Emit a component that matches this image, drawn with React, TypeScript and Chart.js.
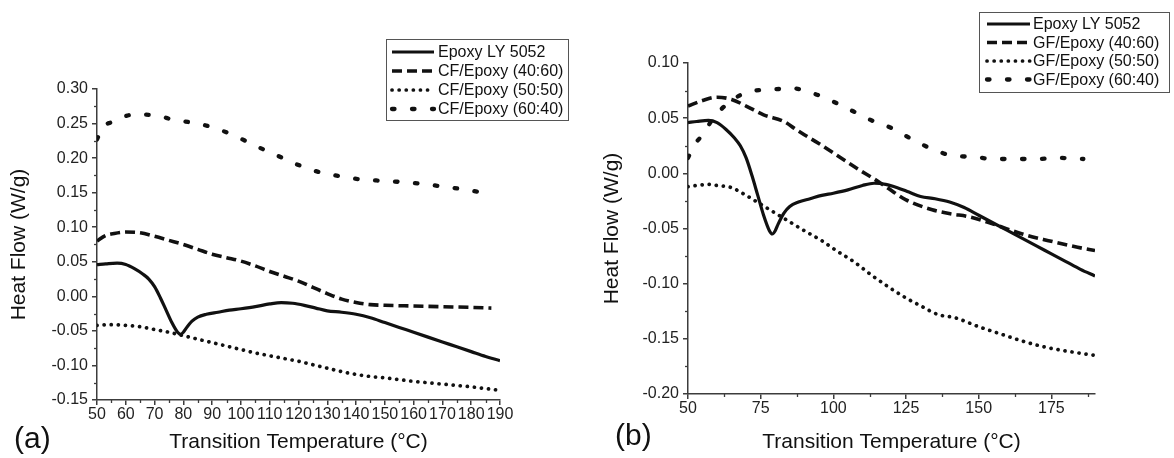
import React, { useEffect, useRef } from 'react';
import { Chart, registerables } from 'chart.js';

Chart.register(...registerables);

const FONT = "'Liberation Sans', Arial, Helvetica, sans-serif";
const INK = '#111111';
const AXIS = '#3c3c3c';

// ---------- Shared: neat epoxy curve ----------
const tempEpoxy = [50, 53, 57, 60, 63, 66, 68, 70, 72, 74, 76, 78, 79, 80, 81, 83, 85, 88, 92, 96, 100, 105, 110, 114, 118, 122, 126, 130, 135, 140, 145, 150, 155, 160, 165, 170, 175, 180, 185, 190];
const hfEpoxy = [0.046, 0.047, 0.048, 0.046, 0.040, 0.032, 0.025, 0.014, -0.002, -0.020, -0.038, -0.052, -0.055, -0.052, -0.046, -0.036, -0.030, -0.026, -0.023, -0.020, -0.018, -0.015, -0.011, -0.009, -0.010, -0.013, -0.017, -0.021, -0.023, -0.026, -0.031, -0.038, -0.045, -0.052, -0.059, -0.066, -0.073, -0.080, -0.087, -0.093];

// ---------- Panel (a): CF/Epoxy ----------
const tempCF4060 = [50, 53, 56, 60, 65, 70, 75, 80, 85, 90, 95, 100, 105, 110, 115, 120, 125, 130, 135, 140, 145, 150, 160, 170, 180, 187];
const hfCF4060 = [0.080, 0.088, 0.091, 0.093, 0.092, 0.087, 0.081, 0.075, 0.068, 0.061, 0.056, 0.051, 0.044, 0.036, 0.029, 0.022, 0.013, 0.004, -0.004, -0.009, -0.012, -0.013, -0.014, -0.015, -0.016, -0.017];

const tempCF5050 = [50, 55, 60, 65, 70, 75, 80, 85, 90, 95, 100, 105, 110, 115, 120, 125, 130, 135, 140, 145, 150, 160, 170, 180, 190];
const hfCF5050 = [-0.042, -0.041, -0.042, -0.044, -0.048, -0.052, -0.057, -0.062, -0.067, -0.072, -0.077, -0.082, -0.086, -0.090, -0.094, -0.099, -0.104, -0.109, -0.113, -0.116, -0.118, -0.123, -0.127, -0.131, -0.136];

const tempCF6040 = [50, 52, 55, 58, 63, 70, 77, 85, 92, 99, 106, 113, 120, 127, 134, 142, 150, 160, 170, 180, 187];
const hfCF6040 = [0.227, 0.245, 0.252, 0.258, 0.263, 0.262, 0.255, 0.250, 0.242, 0.230, 0.216, 0.203, 0.190, 0.180, 0.174, 0.169, 0.167, 0.164, 0.159, 0.153, 0.147];

// ---------- Panel (b): GF/Epoxy ----------
const tempGF4060 = [50, 55, 60, 65, 70, 76, 83, 87, 90, 95, 102, 109, 114, 118, 125, 134, 141, 146, 155, 165, 174, 184, 190];
const hfGF4060 = [0.061, 0.066, 0.069, 0.067, 0.061, 0.053, 0.047, 0.040, 0.035, 0.027, 0.015, 0.003, -0.005, -0.012, -0.024, -0.033, -0.037, -0.039, -0.046, -0.055, -0.061, -0.067, -0.070];

const tempGF5050 = [50, 53, 57, 60, 65, 70, 75, 80, 85, 90, 96, 101, 107, 113, 119, 125, 130, 136, 142, 150, 158, 165, 172, 180, 190];
const hfGF5050 = [-0.012, -0.011, -0.010, -0.011, -0.013, -0.020, -0.028, -0.036, -0.044, -0.052, -0.061, -0.070, -0.080, -0.092, -0.103, -0.113, -0.120, -0.128, -0.131, -0.139, -0.146, -0.152, -0.157, -0.161, -0.165];

const tempGF6040 = [50, 52, 55, 59, 65, 71, 79, 86, 93, 100, 107, 114, 120, 127, 134, 141, 148, 155, 163, 170, 177, 186];
const hfGF6040 = [0.014, 0.025, 0.035, 0.051, 0.066, 0.074, 0.076, 0.077, 0.0725, 0.065, 0.056, 0.047, 0.041, 0.031, 0.022, 0.016, 0.015, 0.013, 0.013, 0.013, 0.014, 0.013];

// ---------- Ticks ----------
const xTicksA = [50, 60, 70, 80, 90, 100, 110, 120, 130, 140, 150, 160, 170, 180, 190];
const yTicksA = [-0.15, -0.10, -0.05, 0.00, 0.05, 0.10, 0.15, 0.20, 0.25, 0.30];
const xTicksB = [50, 75, 100, 125, 150, 175];
const yTicksB = [-0.20, -0.15, -0.10, -0.05, 0.00, 0.05, 0.10];

const xTitle = 'Transition Temperature (°C)';
const yTitle = 'Heat Flow (W/g)';

type StyleKey = 'solid' | 'dash' | 'dot' | 'sparse';
const STYLES: Record<StyleKey, { dash: number[]; width: number; cap: CanvasLineCap }> = {
  solid: { dash: [], width: 3.2, cap: 'butt' },
  dash: { dash: [10, 5], width: 3.6, cap: 'butt' },
  dot: { dash: [0.1, 7], width: 3.7, cap: 'round' },
  sparse: { dash: [2.5, 17.5], width: 4.3, cap: 'round' },
};

type Series = { label: string; t: number[]; hf: number[]; style: StyleKey };

type Spec = {
  left: number;
  width: number;
  area: { l: number; r: number; t: number; b: number };
  xMin: number; xMax: number; xTicks: number[]; xMinorStep: number;
  yMin: number; yMax: number; yTicks: number[]; yMinorStep: number;
  series: Series[];
  legend: { x: number; y: number; w: number; h: number; row0: number; gap: number; s0: number; s1: number; tx: number };
  tag: string; tagX: number; tagY: number;
  yTitlePad: number;
};

const H = 458;

const specA: Spec = {
  left: 0,
  width: 585,
  area: { l: 97, r: 500, t: 89, b: 400 },
  xMin: 50, xMax: 190, xTicks: xTicksA, xMinorStep: 5,
  yMin: -0.15, yMax: 0.30, yTicks: yTicksA, yMinorStep: 0.025,
  series: [
    { label: 'Epoxy LY 5052', t: tempEpoxy, hf: hfEpoxy, style: 'solid' },
    { label: 'CF/Epoxy (40:60)', t: tempCF4060, hf: hfCF4060, style: 'dash' },
    { label: 'CF/Epoxy (50:50)', t: tempCF5050, hf: hfCF5050, style: 'dot' },
    { label: 'CF/Epoxy (60:40)', t: tempCF6040, hf: hfCF6040, style: 'sparse' },
  ],
  legend: { x: 386.5, y: 39.5, w: 182, h: 81, row0: 52, gap: 19, s0: 392, s1: 434, tx: 438 },
  tag: '(a)', tagX: 14, tagY: 440,
  yTitlePad: 7,
};

const specB: Spec = {
  left: 585,
  width: 589,
  area: { l: 103, r: 510, t: 63, b: 394 },
  xMin: 50, xMax: 190, xTicks: xTicksB, xMinorStep: 12.5,
  yMin: -0.20, yMax: 0.10, yTicks: yTicksB, yMinorStep: 0.025,
  series: [
    { label: 'Epoxy LY 5052', t: tempEpoxy, hf: hfEpoxy, style: 'solid' },
    { label: 'GF/Epoxy (40:60)', t: tempGF4060, hf: hfGF4060, style: 'dash' },
    { label: 'GF/Epoxy (50:50)', t: tempGF5050, hf: hfGF5050, style: 'dot' },
    { label: 'GF/Epoxy (60:40)', t: tempGF6040, hf: hfGF6040, style: 'sparse' },
  ],
  legend: { x: 394.5, y: 12.5, w: 190, h: 80, row0: 24, gap: 18.5, s0: 402, s1: 445, tx: 448 },
  tag: '(b)', tagX: 30, tagY: 437,
  yTitlePad: 15,
};

function Panel({ spec }: { spec: Spec }) {
  const ref = useRef<HTMLCanvasElement | null>(null);

  useEffect(() => {
    const canvas = ref.current;
    if (!canvas) return;
    const { area } = spec;

    const extras = {
      id: 'extras',
      afterDraw(chart: any) {
        const ctx: CanvasRenderingContext2D = chart.ctx;
        const xs = chart.scales.x;
        const ys = chart.scales.y;
        ctx.save();
        // minor ticks
        ctx.strokeStyle = AXIS;
        ctx.lineWidth = 1.3;
        ctx.setLineDash([]);
        const bottom = chart.chartArea.bottom;
        const leftPx = chart.chartArea.left;
        const nx = Math.round((spec.xMax - spec.xMin) / spec.xMinorStep);
        for (let i = 0; i <= nx; i++) {
          const v = spec.xMin + i * spec.xMinorStep;
          if (spec.xTicks.some((t) => Math.abs(t - v) < 1e-6)) continue;
          const px = Math.round(xs.getPixelForValue(v)) + 0.5;
          ctx.beginPath();
          ctx.moveTo(px, bottom);
          ctx.lineTo(px, bottom + 3);
          ctx.stroke();
        }
        const ny = Math.round((spec.yMax - spec.yMin) / spec.yMinorStep);
        for (let i = 0; i <= ny; i++) {
          const v = spec.yMin + i * spec.yMinorStep;
          if (spec.yTicks.some((t) => Math.abs(t - v) < 1e-6)) continue;
          const py = Math.round(ys.getPixelForValue(v)) + 0.5;
          ctx.beginPath();
          ctx.moveTo(leftPx, py);
          ctx.lineTo(leftPx - 3, py);
          ctx.stroke();
        }
        // legend box
        const lg = spec.legend;
        ctx.strokeStyle = '#555';
        ctx.lineWidth = 1;
        ctx.strokeRect(lg.x, lg.y, lg.w, lg.h);
        ctx.font = `16px ${FONT}`;
        ctx.textBaseline = 'middle';
        ctx.textAlign = 'left';
        spec.series.forEach((s, i) => {
          const st = STYLES[s.style];
          const y = lg.row0 + i * lg.gap;
          ctx.strokeStyle = INK;
          ctx.lineWidth = st.width;
          ctx.lineCap = st.cap;
          ctx.setLineDash(st.dash);
          ctx.beginPath();
          ctx.moveTo(lg.s0, y);
          ctx.lineTo(lg.s1, y);
          ctx.stroke();
          ctx.setLineDash([]);
          ctx.fillStyle = INK;
          ctx.fillText(s.label, lg.tx, y + 1);
        });
        // panel tag
        ctx.font = `30px ${FONT}`;
        ctx.fillStyle = INK;
        ctx.textBaseline = 'middle';
        ctx.fillText(spec.tag, spec.tagX, spec.tagY);
        ctx.restore();
      },
    };

    const chart = new Chart(canvas, {
      type: 'line',
      data: {
        datasets: spec.series.map((s) => {
          const st = STYLES[s.style];
          return {
            label: s.label,
            data: s.t.map((x, i) => ({ x, y: s.hf[i] })),
            borderColor: INK,
            backgroundColor: INK,
            borderWidth: st.width,
            borderDash: st.dash,
            borderCapStyle: st.cap,
            borderJoinStyle: 'round',
            pointRadius: 0,
            pointHoverRadius: 0,
            fill: false,
            cubicInterpolationMode: 'monotone',
          };
        }) as any,
      },
      options: {
        animation: false,
        responsive: false,
        maintainAspectRatio: false,
        devicePixelRatio: 1,
        events: [],
        layout: { padding: { left: 0, top: area.t, right: spec.width - area.r, bottom: 0 } },
        plugins: { legend: { display: false }, tooltip: { enabled: false }, title: { display: false } },
        scales: {
          x: {
            type: 'linear',
            min: spec.xMin,
            max: spec.xMax,
            afterFit: (s: any) => { s.height = H - area.b; },
            afterBuildTicks: (s: any) => { s.ticks = spec.xTicks.map((v) => ({ value: v })); },
            grid: { drawOnChartArea: false, drawTicks: true, tickLength: 5, color: AXIS, lineWidth: 1.5 },
            border: { display: true, color: AXIS, width: 1.5 },
            ticks: {
              font: { family: FONT, size: 16 },
              color: '#222',
              padding: 0,
              maxRotation: 0,
              autoSkip: false,
              callback: (v: any) => String(v),
            },
            title: {
              display: true,
              text: xTitle,
              font: { family: FONT, size: 21 },
              color: INK,
              padding: { top: 0, bottom: 3 },
            },
          },
          y: {
            type: 'linear',
            min: spec.yMin,
            max: spec.yMax,
            afterFit: (s: any) => { s.width = area.l; },
            afterBuildTicks: (s: any) => { s.ticks = spec.yTicks.map((v) => ({ value: v })); },
            grid: { drawOnChartArea: false, drawTicks: true, tickLength: 5, color: AXIS, lineWidth: 1.5 },
            border: { display: true, color: AXIS, width: 1.5 },
            ticks: {
              font: { family: FONT, size: 16 },
              color: '#222',
              padding: 4,
              autoSkip: false,
              callback: (v: any) => Number(v).toFixed(2),
            },
            title: {
              display: true,
              text: yTitle,
              font: { family: FONT, size: 21 },
              color: INK,
              padding: { top: spec.yTitlePad, bottom: 0 },
            },
          },
        },
      } as any,
      plugins: [extras],
    });

    return () => chart.destroy();
  }, [spec]);

  return (
    <canvas
      ref={ref}
      width={spec.width}
      height={H}
      style={{ position: 'absolute', left: spec.left, top: 0, width: spec.width, height: H }}
    />
  );
}

export default function App() {
  return (
    <div style={{ position: 'absolute', left: 0, top: 0, width: 1174, height: H, background: '#fff', overflow: 'hidden' }}>
      <Panel spec={specA} />
      <Panel spec={specB} />
    </div>
  );
}
